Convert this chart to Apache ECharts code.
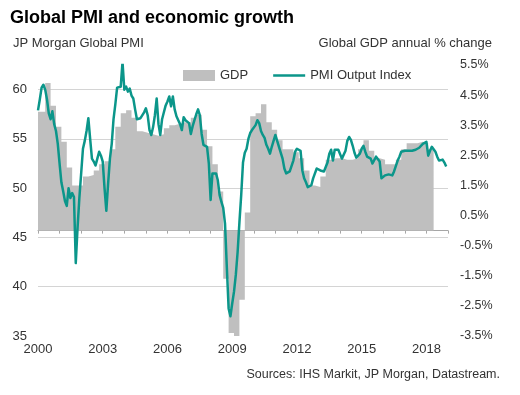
<!DOCTYPE html>
<html><head><meta charset="utf-8">
<script src="https://cdn.jsdelivr.net/npm/echarts@6/dist/echarts.min.js"></script>
<style>html,body{margin:0;padding:0;background:#fff}#c{width:520px;height:395px}</style>
</head><body><div id="c"></div>
<script>
// PMI Output Index, monthly from Jan 2000
const pmiStartYear = 2000;
const pmi = [
  57.9,59.0,60.2,60.5,60.0,59.0,57.6,57.0,57.8,56.5,55.8,54.5,
  52.5,50.6,49.7,48.7,48.2,50.0,49.0,49.5,49.1,42.4,46.0,49.0,
  51.5,54.0,54.8,55.8,57.1,55.0,53.0,52.7,52.3,53.0,53.7,53.3,
  52.7,50.0,47.7,50.5,53.0,54.5,57.0,58.5,60.2,60.0,60.3,62.8,
  60.0,60.3,59.8,60.1,59.4,59.1,58.0,57.0,57.0,57.1,56.9,57.7,
  58.1,57.4,55.9,55.4,56.2,57.4,59.1,56.5,55.4,57.0,57.7,58.4,
  58.8,59.3,58.3,59.3,58.0,57.3,56.9,56.5,55.9,57.2,56.9,56.7,
  56.6,55.5,56.3,56.9,57.5,58.0,57.4,55.5,54.4,54.2,54.2,52.5,
  48.8,51.5,51.3,51.5,50.8,49.3,48.6,48.0,46.4,42.0,37.8,37.0,
  38.3,39.5,41.2,43.5,46.5,49.3,52.6,53.6,54.0,55.0,55.6,55.9,
  56.0,56.4,56.9,56.6,55.8,55.4,55.1,54.4,54.0,53.5,54.2,54.8,
  55.4,55.5,54.2,54.0,53.0,52.0,51.5,51.5,51.7,51.7,52.8,53.7,
  54.0,54.2,53.8,51.8,51.0,50.6,50.1,50.1,50.3,51.0,51.5,52.0,
  52.0,51.8,52.0,51.7,51.9,52.6,53.5,53.9,52.8,53.9,53.9,53.9,
  53.8,53.0,52.8,53.8,54.8,55.2,54.9,54.3,53.6,53.1,52.9,53.5,
  54.0,54.3,53.7,53.2,53.2,53.0,52.5,52.7,53.2,53.4,52.7,51.0,
  50.9,51.3,51.3,51.4,51.4,51.3,51.7,51.9,52.8,53.2,53.7,53.8,
  53.8,53.7,53.8,53.7,53.8,53.9,53.9,54.0,54.1,54.2,54.5,54.7,
  54.7,53.3,53.8,54.2,54.0,53.7,53.2,52.8,53.0,52.9,52.6,52.2
];
// Global GDP annual % change, quarterly from 2000 Q1
const gdpStartYear = 2000;
const gdp = [
  3.95,4.9,4.15,3.45,
  2.95,2.1,1.5,1.5,
  1.8,1.85,2.0,2.2,
  2.3,2.7,3.45,3.9,
  4.0,3.75,3.3,3.25,
  3.2,3.15,3.2,3.4,
  3.5,3.55,3.6,3.6,
  3.75,3.85,3.35,2.8,
  2.2,1.3,-1.6,-3.4,
  -3.5,-2.3,0.6,3.8,
  3.9,4.2,3.6,3.35,
  3.0,2.7,2.7,2.6,
  2.4,2.0,1.5,1.45,
  1.8,2.35,2.4,2.4,
  2.35,2.35,2.4,2.7,
  3.0,2.65,2.4,2.35,
  2.2,2.2,2.35,2.7,
  2.9,2.9,2.95,2.9,
  2.7
];
const xTickLabels = ['2000','2003','2006','2009','2012','2015','2018'];
const leftTickLabels = ['35','40','45','50','55','60'];
const rightTickLabels = ['-3.5%','-2.5%','-1.5%','-0.5%','0.5%','1.5%','2.5%','3.5%','4.5%','5.5%'];

const FONT = '"Liberation Sans", Arial, sans-serif';
const TXT = '#333333';

const pmiData = pmi.map((v, m) => [pmiStartYear + m / 12, v]);
const gdpData = [[gdpStartYear, gdp[0]]];
for (let i = 1; i < gdp.length; i++) gdpData.push([gdpStartYear + i * 0.25 + 1 / 12, gdp[i]]);
gdpData.push([gdpStartYear + gdp.length * 0.25 + 1 / 12, gdp[gdp.length - 1]]);

const chart = echarts.init(document.getElementById('c'), null, {renderer: 'canvas'});
chart.setOption({
  animation: false,
  backgroundColor: '#ffffff',
  textStyle: {fontFamily: FONT},
  title: [
    {text: 'Global PMI and economic growth', left: 10, top: 9, padding: 0,
     textStyle: {fontSize: 18, fontWeight: 'bold', color: '#000', fontFamily: FONT}},
    {text: 'JP Morgan Global PMI', left: 13, top: 37, padding: 0,
     textStyle: {fontSize: 13, fontWeight: 'normal', color: TXT, fontFamily: FONT}},
    {text: 'Global GDP annual % change', right: 28, top: 37, padding: 0,
     textStyle: {fontSize: 13, fontWeight: 'normal', color: TXT, fontFamily: FONT}},
    {text: 'Sources: IHS Markit, JP Morgan, Datastream.', right: 20, top: 368, padding: 0,
     textStyle: {fontSize: 12.5, fontWeight: 'normal', color: TXT, fontFamily: FONT}}
  ],
  legend: {
    left: 183, top: 69, padding: 0, itemGap: 25, itemWidth: 32, itemHeight: 11,
    symbolKeepAspect: false,
    textStyle: {fontSize: 13, color: TXT, fontFamily: FONT},
    data: [
      {name: 'GDP', icon: 'rect'},
      {name: 'PMI Output Index', icon: 'path://M0,0M0,4.2h32v2.6h-32zM32,11'}
    ]
  },
  grid: {left: 38, right: 72, top: 65, bottom: 59, containLabel: false},
  xAxis: {
    type: 'value', min: 2000, max: 2019, interval: 1,
    axisLine: {show: true, lineStyle: {color: '#a6a6a6', width: 1}},
    axisTick: {show: true, length: 3, lineStyle: {color: '#a6a6a6'}},
    splitLine: {show: false},
    axisLabel: {
      margin: 7, fontSize: 13, color: TXT, fontFamily: FONT,
      showMinLabel: true, showMaxLabel: true,
      formatter: v => xTickLabels.includes(String(Math.round(v))) && Math.abs(v - Math.round(v)) < 1e-6 ? String(Math.round(v)) : ''
    }
  },
  yAxis: [
    {
      type: 'value', min: 35, max: 62.5, interval: 5, position: 'left',
      axisLine: {show: false}, axisTick: {show: false},
      splitLine: {show: true, showMinLine: false, showMaxLine: false, lineStyle: {color: '#d4d4d4', width: 1}},
      axisLabel: {
        margin: 11, fontSize: 13, color: TXT, fontFamily: FONT,
        formatter: v => { const s = String(v); return leftTickLabels.includes(s) ? s : ''; }
      }
    },
    {
      type: 'value', min: -3.5, max: 5.5, interval: 1, position: 'right',
      axisLine: {show: false}, axisTick: {show: false}, splitLine: {show: false},
      axisLabel: {
        margin: 12, fontSize: 12.5, color: TXT, fontFamily: FONT,
        formatter: v => { const s = v.toFixed(1) + '%'; return rightTickLabels.includes(s) ? s : ''; }
      }
    }
  ],
  series: [
    {
      name: 'GDP', type: 'line', yAxisIndex: 1, step: 'end', data: gdpData,
      symbol: 'none', showSymbol: false, color: '#bfbfbf',
      lineStyle: {width: 0, color: '#bfbfbf'},
      itemStyle: {color: '#bfbfbf'},
      areaStyle: {color: '#bfbfbf', opacity: 1},
      z: 1
    },
    {
      name: 'PMI Output Index', type: 'line', yAxisIndex: 0, data: pmiData,
      symbol: 'none', showSymbol: false, color: '#0b968a',
      lineStyle: {width: 2.5, color: '#0b968a', join: 'round'},
      itemStyle: {color: '#0b968a'},
      z: 3
    }
  ]
});
</script>
</body></html>
